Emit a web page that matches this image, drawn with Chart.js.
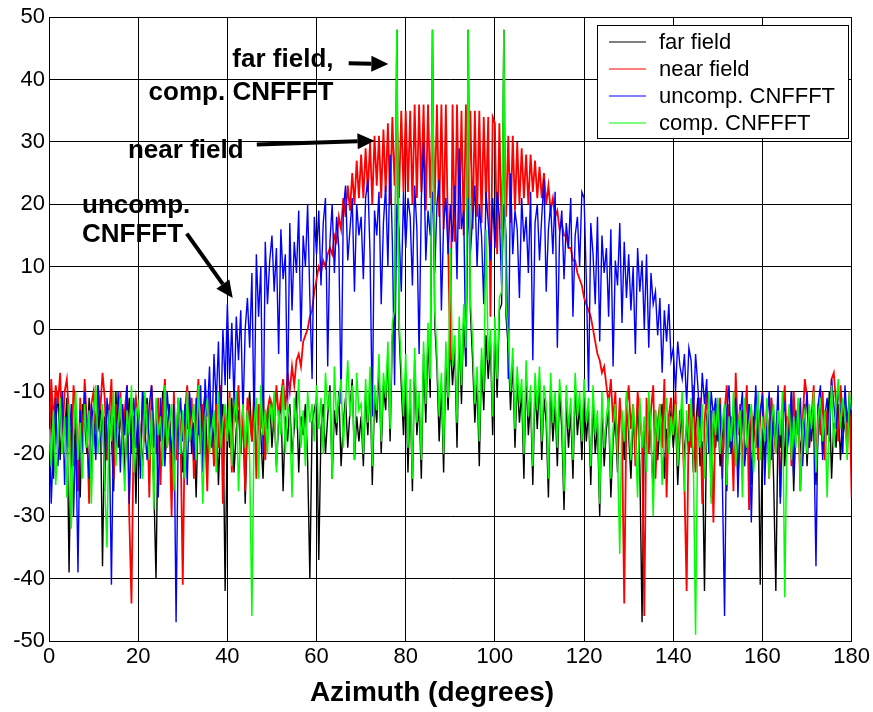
<!DOCTYPE html>
<html>
<head>
<meta charset="utf-8">
<script src="https://cdn.jsdelivr.net/npm/chart.js@4.4.1/dist/chart.umd.min.js"></script>
<style>
  html, body { margin: 0; padding: 0; background: #fff; }
  #wrap { width: 873px; height: 712px; }
</style>
</head>
<body>
<div id="wrap"><canvas id="c" width="873" height="712"></canvas></div>
<script>
// Azimuth sampled every 0.5 degree, 0 .. 180
const STEP = 0.5;
const xTicks = [0, 20, 40, 60, 80, 100, 120, 140, 160, 180];
const yTicks = [-50, -40, -30, -20, -10, 0, 10, 20, 30, 40, 50];
const seriesLabels = ['far field', 'near field', 'uncomp. CNFFFT', 'comp. CNFFFT'];
const seriesColors = ['#000000', '#ff0000', '#0000ff', '#00ff00'];

const farField = [
-18,-12,-24,-15,-10,-21,-14,-17,-11,-39,-16,-22,-13,-19,-27,-12,-15,-20,-11,-25,
-13,-18,-16,-11,-38,-14,-21,-12,-17,-26,-10,-19,-15,-13,-23,-16,-11,-20,-14,-28,
-12,-17,-22,-14,-11,-19,-15,-25,-40,-13,-18,-10,-21,-16,-12,-24,-14,-19,-11,-17,
-23,-13,-16,-11,-20,-15,-27,-12,-18,-14,-10,-22,-16,-13,-19,-11,-25,-15,-12,-42,
-14,-19,-11,-23,-16,-13,-20,-12,-28,-15,-10,-18,-14,-21,-12,-17,-24,-13,-16,-11,
-19,-13,-22,-15,-11,-26,-14,-18,-12,-20,-16,-10,-23,-14,-17,-12,-21,-40,-15,-13,
-11,-37,-16,-12,-20,-14,-9,-24,-13,-17,-10,-22,-15,-11,-19,-13,-8,-21,-14,-18,
-14,-22,-10,-17,-8,-25,-11,-15,-6,-20,-9,-13,-4,-18,-1,1,48,0,-9,-17,
-7,-23,-10,-26,-5,-17,-12,-24,-4,-15,-1,-11,48,1,-6,-18,-9,-23,-4,-13,
-2,-9,-3,-19,0,-12,2,-6,48,3,-5,-15,-8,-22,-5,-13,-1,-8,-2,-17,
0,-11,3,4,48,2,-3,-13,-5,-19,-8,-15,-10,-24,-7,-17,-11,-25,-9,-16,
-8,-21,-11,-15,-27,-9,-18,-12,-22,-10,-16,-29,-11,-19,-13,-24,-9,-17,-12,-21,
-10,-18,-13,-25,-11,-20,-15,-30,-12,-22,-16,-13,-27,-18,-14,-23,-12,-15,-21,-11,
-17,-24,-14,-19,-12,-22,-47,-15,-20,-11,-18,-26,-13,-21,-15,-12,-24,-16,-19,-13,
-19,-14,-25,-17,-12,-21,-15,-20,-13,-23,-16,-11,-22,-18,-42,-14,-12,-27,-15,-19,
-13,-22,-17,-14,-26,-12,-20,-15,-11,-24,-16,-13,-21,-18,-12,-25,-14,-19,-11,-41,
-16,-21,-13,-18,-11,-24,-42,-15,-19,-12,-22,-14,-17,-10,-26,-15,-13,-20,-16,-12,
-22,-14,-18,-12,-25,-16,-11,-20,-13,-17,-10,-24,-15,-19,-12,-21,-14,-16,-18,-12,
-15];

const nearField = [
-20,-8,-15,-9,-12,-7,-18,-10,-8,-14,-22,-9,-13,-26,-11,-19,-8,-15,-28,-12,
-10,-17,-9,-13,-7,-11,-21,-14,-8,-24,-12,-16,-10,-19,-13,-9,-30,-44,-15,-11,
-14,-22,-10,-18,-12,-27,-9,-16,-20,-11,-25,-13,-8,-19,-15,-30,-10,-21,-12,-17,
-41,-13,-9,-18,-11,-24,-14,-8,-20,-12,-16,-26,-10,-15,-22,-11,-19,-9,-28,-13,
-17,-10,-23,-12,-15,-9,-20,-13,-26,-11,-14,-18,-10,-24,-12,-16,-9,-21,-13,-11,
-12,-16,-9,-14,-11,-8,-13,-7,-10,-6,-9,-5,-4,-6,-2,-1,0,2,3,6,
8,10,9,11,10,12,13,12,15,14,18,16,21,18,23,19,25,20,27,21,
28,21,29,22,30,20,31,23,31,21,32,22,33,20,34,23,34,21,35,22,
35,22,35,20,36,21,36,22,36,19,36,21,36,20,36,18,36,16,36,14,
-5,36,14,36,16,35,15,36,17,35,16,35,18,35,17,34,20,34,2,34,
33,12,33,16,32,18,31,17,31,19,30,20,29,21,28,20,28,22,27,21,
26,21,25,20,23,19,21,18,19,16,17,15,15,13,13,11,11,9,8,7,
5,4,3,2,0,-2,-4,-5,-7,-6,-9,-12,-8,-15,-10,-20,-11,-17,-44,-13,
-9,-16,-12,-22,-10,-14,-18,-46,-11,-20,-13,-9,-24,-15,-12,-19,-8,-27,-14,-11,
-17,-10,-21,-13,-16,-25,-42,-12,-19,-9,-23,-14,-11,-28,-15,-10,-20,-13,-31,-12,
-16,-11,-24,-13,-9,-19,-14,-26,-7,-17,-12,-22,-15,-9,-29,-13,-18,-11,-21,-14,
-10,-18,-13,-24,-11,-16,-20,-12,-27,-14,-9,-19,-13,-22,-10,-17,-12,-26,-15,-8,
-11,-19,-14,-9,-23,-12,-17,-10,-21,-13,-16,-8,-7,-12,-18,-9,-14,-11,-20,-10,
-27];

const uncompCNFFFT = [
-13,-28,-18,-11,-22,-15,-10,-25,-14,-19,-12,-30,-16,-39,-13,-20,-10,-17,-24,-12,
-15,-21,-9,-18,-13,-26,-11,-16,-41,-14,-20,-10,-23,-12,-17,-9,-28,-15,-11,-19,
-13,-24,-10,-16,-21,-12,-9,-19,-14,-27,-11,-17,-22,-10,-15,-20,-12,-47,-16,-11,
-18,-12,-25,-10,-15,-21,-11,-17,-9,-23,-8,-14,-6,-19,-4,-12,-2,-16,0,-9,
4,-8,1,-12,2,-5,3,-14,0,5,-3,9,-16,12,2,10,-20,14,4,11,
15,6,13,-4,16,8,12,-12,17,3,14,9,19,-2,15,10,20,5,-8,18,
12,19,7,17,21,-6,14,20,9,18,13,-12,19,23,11,16,21,6,20,15,
18,8,21,24,12,-14,19,15,22,4,17,23,10,28,14,-9,20,16,6,22,
13,21,18,7,23,16,-4,21,30,11,19,15,22,9,20,24,3,17,21,12,
20,14,23,8,29,16,19,-6,21,12,18,23,10,20,15,4,22,17,11,21,
13,22,18,7,20,15,-8,25,12,19,16,5,21,14,18,9,22,-5,17,20,
11,18,24,6,16,20,12,22,-3,15,19,8,17,13,21,2,15,18,10,22,
21,8,-10,17,12,4,18,-2,15,9,13,2,16,-6,11,7,17,1,14,5,
12,3,10,-4,13,6,11,0,12,-3,9,4,6,-1,5,-7,3,-2,4,-5,
-3,-10,-2,-6,-8,-4,-12,-3,-5,-14,-4,-9,-16,-7,-12,-8,-20,-10,-14,-11,
-18,-12,-24,-46,-13,-9,-20,-15,-11,-27,-14,-10,-22,-17,-12,-31,-16,-9,-19,-13,
-11,-25,-15,-10,-21,-13,-18,-9,-28,-14,-12,-20,-16,-10,-24,-13,-17,-11,-22,-15,
-10,-19,-13,-16,-38,-12,-9,-21,-14,-11,-18,-8,-12,-16,-10,-13,-20,-9,-15,-11,
-14];

const compCNFFFT = [
-16,-22,-13,-25,-18,-11,-20,-14,-27,-12,-32,-17,-10,-21,-15,-24,-12,-19,-13,-28,
-14,-9,-20,-16,-12,-25,-35,-13,-18,-10,-22,-15,-11,-19,-26,-13,-17,-9,-23,-14,
-12,-18,-24,-10,-16,-21,-13,-29,-11,-17,-14,-22,-9,-19,-15,-12,-26,-16,-11,-20,
-13,-24,-10,-18,-15,-12,-21,-9,-17,-28,-14,-11,-20,-16,-13,-23,-10,-19,-15,-12,
-18,-11,-22,-14,-10,-26,-16,-12,-19,-13,-21,-46,-15,-11,-24,-9,-17,-13,-20,-12,
-15,-10,-23,-13,-17,-9,-20,-12,-14,-27,-11,-16,-8,-19,-13,-22,-10,-15,-12,-18,
-9,-16,-11,-20,-7,-13,-10,-24,-6,-15,-11,-8,-19,-12,-5,-14,-9,-21,-7,-13,
-12,-20,-8,-15,-6,-22,-9,-13,-4,-18,-7,-11,-2,-16,1,3,48,2,-6,-14,
-4,-19,-8,-24,-3,-15,-10,-21,-2,-12,1,-8,48,3,-4,-14,-7,-20,-2,-11,
13,-6,-1,-15,2,-9,4,-3,48,5,-2,-12,-6,-18,-3,-10,16,-5,0,-14,
2,-8,5,6,48,4,-1,-10,-3,-16,-6,-12,-8,-20,-5,-14,-9,-22,-7,-13,
-6,-18,-9,-12,-24,-7,-15,-10,-19,-8,-13,-26,-9,-16,-11,-21,-7,-14,-10,-18,
-8,-15,-11,-22,-9,-17,-13,-28,-10,-19,-14,-11,-24,-16,-12,-20,-36,-13,-18,-10,
-15,-21,-12,-17,-27,-11,-19,-14,-23,-10,-16,-30,-13,-18,-12,-25,-15,-11,-20,-14,
-17,-12,-22,-15,-10,-26,-13,-18,-11,-21,-49,-14,-19,-12,-24,-16,-10,-28,-13,-17,
-11,-20,-15,-12,-25,-14,-18,-10,-22,-16,-13,-27,-11,-19,-15,-12,-23,-17,-10,-21,
-14,-18,-11,-24,-15,-12,-20,-13,-17,-10,-43,-16,-12,-21,-14,-19,-11,-26,-15,-13,
-20,-12,-16,-10,-23,-14,-11,-18,-13,-27,-15,-9,-19,-12,-8,-16,-11,-14,-21,-10,
-13];

const seriesValues = [farField, nearField, uncompCNFFFT, compCNFFFT];
const seriesWidths = [1.4, 1.8, 1.4, 1.5];
const toPoints = arr => arr.map((v, i) => ({ x: i * STEP, y: v }));

const FONT = "'Liberation Sans', Arial, Helvetica, sans-serif";

const overlay = {
  id: 'overlay',
  afterDraw(chart) {
    const ctx = chart.ctx;
    const xs = chart.scales.x, ys = chart.scales.y;
    const X = v => xs.getPixelForValue(v);
    const Y = v => ys.getPixelForValue(v);
    ctx.save();

    // legend box
    ctx.fillStyle = '#fff';
    ctx.fillRect(597, 25, 251, 113);
    ctx.strokeStyle = '#000';
    ctx.lineWidth = 1;
    ctx.strokeRect(597.5, 25.5, 251, 113);
    ctx.font = '22px ' + FONT;
    ctx.textBaseline = 'middle';
    ctx.textAlign = 'left';
    chart.data.datasets.forEach((ds, i) => {
      const yy = Math.round(41.5 + i * 27.2);
      ctx.strokeStyle = ds.borderColor;
      ctx.lineWidth = 1.2;
      ctx.beginPath();
      ctx.moveTo(609, yy);
      ctx.lineTo(646, yy);
      ctx.stroke();
      ctx.fillStyle = '#000';
      ctx.fillText(ds.label, 659, yy + 1);
    });

    // annotations
    ctx.fillStyle = '#000';
    ctx.font = 'bold 26px ' + FONT;
    ctx.textBaseline = 'alphabetic';
    ctx.textAlign = 'right';
    ctx.fillText('far field,', X(63.8), Y(42.0));
    ctx.fillText('comp. CNFFFT', X(63.8), Y(36.7));
    ctx.textAlign = 'left';
    ctx.fillText('near field', X(17.7), Y(27.5));
    ctx.fillText('uncomp.', X(7.4), Y(18.6));
    ctx.fillText('CNFFFT', X(7.4), Y(13.9));

    function arrow(x1, y1, x2, y2) {
      const ang = Math.atan2(y2 - y1, x2 - x1);
      const hl = 17, hw = 8;
      const bx = x2 - hl * Math.cos(ang), by = y2 - hl * Math.sin(ang);
      ctx.strokeStyle = '#000';
      ctx.lineWidth = 4;
      ctx.lineCap = 'butt';
      ctx.beginPath();
      ctx.moveTo(x1, y1);
      ctx.lineTo(bx, by);
      ctx.stroke();
      ctx.beginPath();
      ctx.moveTo(x2, y2);
      ctx.lineTo(bx + hw * Math.sin(ang), by - hw * Math.cos(ang));
      ctx.lineTo(bx - hw * Math.sin(ang), by + hw * Math.cos(ang));
      ctx.closePath();
      ctx.fill();
    }
    arrow(X(67.2), Y(42.6), X(76.1), Y(42.5));
    arrow(X(46.6), Y(29.6), X(73.0), Y(30.2));
    arrow(X(30.9), Y(15.3), X(41.2), Y(5.0));

    // x axis title
    ctx.font = 'bold 28px ' + FONT;
    ctx.textAlign = 'center';
    ctx.textBaseline = 'alphabetic';
    ctx.fillText('Azimuth (degrees)', 432, 701);
    ctx.restore();
  }
};

Chart.defaults.font.family = FONT;
Chart.defaults.color = '#000';

new Chart(document.getElementById('c'), {
  type: 'line',
  data: {
    datasets: seriesValues.map((vals, i) => ({
      label: seriesLabels[i],
      data: toPoints(vals),
      borderColor: seriesColors[i],
      backgroundColor: seriesColors[i],
      borderWidth: seriesWidths[i],
      pointRadius: 0,
      tension: 0,
      fill: false,
      order: 3 - i
    }))
  },
  options: {
    responsive: false,
    animation: false,
    devicePixelRatio: 1,
    layout: { padding: { top: 16, right: 20, left: 0, bottom: 0 } },
    plugins: { legend: { display: false }, tooltip: { enabled: false }, title: { display: false } },
    scales: {
      x: {
        type: 'linear',
        min: xTicks[0],
        max: xTicks[xTicks.length - 1],
        afterBuildTicks: s => { s.ticks = xTicks.map(v => ({ value: v })); },
        afterFit: s => { s.height = 71; },
        ticks: { font: { size: 22 }, color: '#000', padding: 3, maxRotation: 0, autoSkip: false },
        grid: { color: '#000', lineWidth: 1, drawTicks: false },
        border: { color: '#000', width: 1 }
      },
      y: {
        type: 'linear',
        min: yTicks[0],
        max: yTicks[yTicks.length - 1],
        afterBuildTicks: s => { s.ticks = yTicks.map(v => ({ value: v })); },
        afterFit: s => { s.width = 49; },
        ticks: { font: { size: 22 }, color: '#000', padding: 4, autoSkip: false },
        grid: { color: '#000', lineWidth: 1, drawTicks: false },
        border: { color: '#000', width: 1 }
      }
    }
  },
  plugins: [overlay]
});
</script>
</body>
</html>
